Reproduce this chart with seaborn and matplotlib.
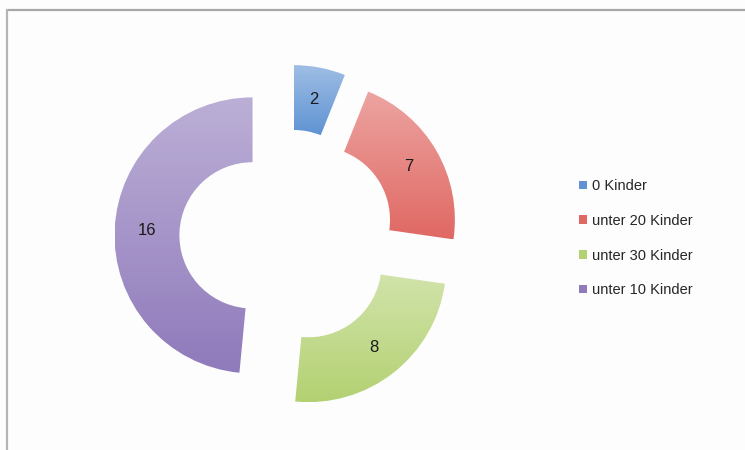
import matplotlib
matplotlib.use("Agg")
import matplotlib.pyplot as plt
import matplotlib.colors as mcolors
import numpy as np
import seaborn as sns

# Data
categories = ["0 Kinder", "unter 20 Kinder", "unter 30 Kinder", "unter 10 Kinder"]
counts = [2, 7, 8, 16]
colors = ["#5f93d3", "#e06863", "#b3d172", "#8f7abb"]

sns.set_theme(style="white")
plt.rcParams["font.family"] = ["Liberation Sans", "DejaVu Sans"]

fig = plt.figure(figsize=(7.45, 4.5), dpi=100)
fig.patch.set_facecolor("#fdfdfd")

# square axes, 1 data unit = 138 px, centre at (287, 213) px from bottom-left
W, H = 745, 450
unit = 138
side = 3.0 * unit
ax = fig.add_axes([(287 - side / 2) / W, (213 - side / 2) / H, side / W, side / H])
ax.set_facecolor("none")

total = sum(counts)
wedges, texts, autotexts = ax.pie(
    counts,
    colors=colors,
    startangle=90,
    counterclock=False,
    explode=[0.25] * len(counts),
    radius=1.0,
    wedgeprops=dict(width=0.47, edgecolor="none"),
    autopct=lambda p: f"{p * total / 100:.0f}",
    pctdistance=0.765,
    textprops=dict(fontsize=12, color="#1a1a1a"),
)
ax.set_xlim(-1.5, 1.5)
ax.set_ylim(-1.5, 1.5)
ax.set_aspect("equal")
ax.axis("off")

# soft vertical gradient inside each wedge, lighter towards the top
for w, c in zip(wedges, colors):
    base = np.array(mcolors.to_rgb(c))
    light = base + (1 - base) * 0.4
    grad = np.linspace(0, 1, 128)[:, None]
    img = light[None, None, :] * (1 - grad[..., None]) + base[None, None, :] * grad[..., None]
    img = np.repeat(img, 2, axis=1)
    ext = w.get_path().get_extents(w.get_patch_transform())
    im = ax.imshow(img, extent=[ext.x0, ext.x1, ext.y0, ext.y1], origin="upper",
                   aspect="auto", zorder=w.get_zorder(), interpolation="bilinear")
    im.set_clip_path(w)
    w.set_alpha(0)
for t in autotexts:
    t.set_zorder(5)
ax.set_xlim(-1.5, 1.5)
ax.set_ylim(-1.5, 1.5)

leg = fig.legend(
    wedges, categories,
    loc="upper left", bbox_to_anchor=(566 / W, 1 - 166 / H),
    frameon=False, fontsize=10.5, labelspacing=1.42,
    handlelength=0.55, handleheight=0.55, handletextpad=0.3,
)
for h, c in zip(leg.legend_handles, colors):
    h.set_alpha(1)
    h.set_facecolor(c)

# the grey frame at top and left
fig.add_artist(plt.Line2D([7 / W, 1], [1 - 10 / H, 1 - 10 / H], color="#a8a8a8", lw=1.6))
fig.add_artist(plt.Line2D([7 / W, 7 / W], [0, 1 - 10 / H], color="#b5b5b5", lw=1.6))

fig.savefig("out.png", dpi=100)
